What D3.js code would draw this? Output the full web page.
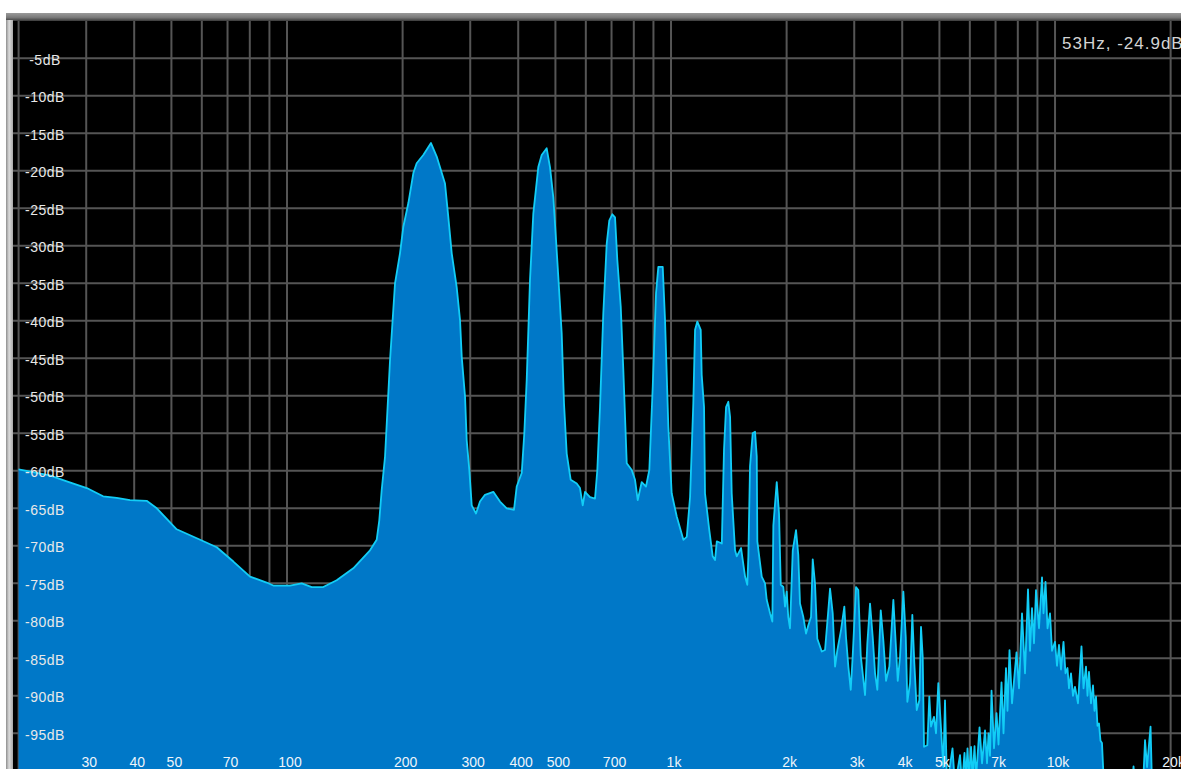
<!DOCTYPE html>
<html>
<head>
<meta charset="utf-8">
<script src="https://cdn.jsdelivr.net/npm/d3@7"></script>
<style>
  html, body { margin: 0; padding: 0; background: #ffffff; overflow: hidden; }
  svg { display: block; }
  text { font-family: "Liberation Sans", Arial, sans-serif; }
</style>
</head>
<body>
<svg id="chart" width="1181" height="769"></svg>
<script>
// Spectrum analyser trace: frequency (Hz) and level (dB)
const freqHz = [
  20, 24.1, 26.7, 30.1, 33.2, 36.0, 39.0, 43.1, 45.8, 51.6, 59.4, 65.6, 72.5, 80.1, 88.5, 92.1, 101.8, 109.2, 116.0, 124.3, 134.7, 148.8, 164.5, 171.2,
  173.9, 176.4, 180.0, 185.5, 191.1, 196.9, 200.8, 207.0, 213.3, 217.6, 226.4, 237.1, 245.4, 257.9, 263.0, 268.5, 276.6, 282.2, 285.1, 290.8, 293.7, 298.4, 302.7, 310.6, 318.1, 327.8, 344.5, 358.6, 373.3, 390.0,
  396.4, 408.5, 414.9, 420.9, 429.3, 437.9, 451.2, 460.5, 474.5, 484.0, 493.7, 501.8, 508.7, 519.2, 526.4, 535.0, 548.0, 568.1, 579.4, 588.9, 597.1, 615.2, 634.0,
  642.8, 653.3, 666.3, 680.1, 690.7, 703.3, 714.8, 724.7, 739.7, 751.3, 766.8, 790.1, 805.9, 819.1, 838.9, 860.8,
  878.0, 896.1, 914.0, 926.7, 951.5, 964.7, 984.0, 1004, 1035, 1077, 1099,
  1121, 1143, 1155, 1171, 1195, 1202, 1219, 1226, 1258, 1284, 1302, 1316, 1356, 1374, 1391, 1410, 1425, 1439, 1468, 1483, 1522, 1559, 1580, 1590, 1606, 1632, 1655, 1672, 1678, 1723, 1757, 1775, 1811, 1836,
  1847, 1885, 1911, 1931, 1961, 1981, 2001, 2020, 2041, 2075, 2116, 2145, 2167, 2211, 2247, 2278, 2315, 2339, 2371, 2404, 2469, 2518, 2568, 2595, 2637, 2674, 2711, 2772, 2827, 2856, 2896, 2938, 2973, 3032, 3074, 3119, 3201, 3245, 3298, 3352, 3399, 3446, 3517, 3572, 3630, 3703, 3793, 3848, 3894, 3948,
  4027, 4086, 4125, 4192, 4250, 4302, 4364, 4433, 4477, 4523, 4559, 4650, 4706, 4754, 4840, 4899, 4967, 5039, 5118, 5170,
  5233, 5408, 5490, 5657, 5725, 5811, 5864, 5917, 5971, 6043, 6097, 6171, 6227, 6359, 6455, 6572, 6651, 6711, 6772, 6833, 6936, 7041, 7126, 7255, 7342, 7453, 7520, 7611, 7726, 7938, 8058, 8204, 8353, 8504, 8607, 8711, 8816, 8922, 9084, 9249, 9332, 9445, 9559, 9703, 9820, 9998, 10119, 10241, 10364, 10521, 10648, 10776, 10873, 11005, 11137, 11272, 11476, 11719, 11861, 12040, 12149, 12258, 12406, 12556, 12669, 12784, 12899, 13016, 13134, 13252, 13412, 15868, 16012, 16156, 16950, 17154, 17362, 17731, 17891, 22050
];
const levelDb = [
  -59.8, -60.6, -61.4, -62.3, -63.4, -63.6, -63.9, -64.0, -65.0, -67.8, -69.2, -70.2, -72.1, -74.1, -74.9, -75.3, -75.3, -75.0, -75.5, -75.5, -74.6, -73.0, -70.6, -69.2,
  -66.6, -62.6, -58.1, -45.2, -35.0, -31.0, -27.5, -24.3, -20.3, -19.0, -17.9, -16.3, -18.1, -21.7, -26.1, -31.0, -35.5, -39.9, -44.8, -50.1, -55.9, -59.9, -64.6, -65.7, -64.1, -63.2, -62.8, -64.1, -65.0, -65.2,
  -62.1, -60.3, -55.0, -47.9, -34.6, -25.7, -19.5, -17.9, -17.0, -19.5, -23.5, -29.2, -34.1, -41.7, -51.0, -57.7, -61.2, -61.7, -62.3, -64.6, -62.8, -63.5, -63.7,
  -59.9, -51.5, -39.0, -29.7, -26.6, -25.8, -26.2, -31.9, -38.1, -46.6, -59.0, -59.9, -61.2, -63.9, -61.5, -62.1,
  -59.9, -48.8, -36.3, -32.8, -32.8, -39.9, -54.1, -63.0, -66.1, -69.2, -68.8,
  -63.5, -51.0, -41.2, -40.1, -41.2, -47.2, -51.5, -63.0, -67.9, -71.4, -71.9, -69.4, -69.7, -57.2, -51.5, -50.8, -52.8, -63.0, -70.6, -71.4, -70.3, -74.1, -75.2, -71.4, -59.4, -55.0, -54.8, -58.1, -69.4, -74.1, -75.0, -77.2, -79.0, -80.1,
  -67.3, -61.5, -65.7, -75.2, -75.5, -78.1, -76.1, -79.5, -81.0, -70.6, -67.9, -71.2, -77.7, -79.5, -81.7, -80.6, -79.5, -71.8, -75.0, -82.4, -84.1, -83.9, -78.6, -75.7, -79.0, -86.1, -83.9, -81.2, -78.1, -82.2, -86.1, -89.2, -84.6, -75.5, -75.9, -84.6, -89.9, -83.0, -77.7, -82.2, -87.0, -89.2, -78.6, -82.6, -88.0, -86.1, -77.2, -83.0, -88.0, -84.8,
  -76.1, -82.2, -90.8, -88.3, -79.2, -85.7, -91.9, -90.6, -80.8, -84.8, -96.8, -96.6, -90.1, -94.1, -92.8, -95.0, -88.3, -93.7, -99.5, -90.6,
  -102, -97.0, -102, -97.9, -102, -97.6, -101, -97.0, -101, -96.8, -101, -96.7, -101, -94.2, -99, -94.6, -99, -95.0, -98, -89.3, -97, -92.3, -96.5, -88.2, -95, -86.3, -92, -83.9, -91, -84.2, -89, -79.0, -87, -75.8, -84, -78.3, -83, -75.9, -81, -74.2, -79, -74.8, -81, -79.0, -84, -82.8, -86, -83.2, -86.5, -82.8, -87, -86.3, -89, -87.0, -90, -88.8, -91, -83.4, -89, -86.1, -90, -86.8, -91, -88.6, -92, -90.1, -94, -93.7, -96, -96.3, -102, -102, -99.4, -102, -102, -95.9, -99.5, -94.1, -102, -102
];

// Axis ticks and grid
const dbTicks = [-5, -10, -15, -20, -25, -30, -35, -40, -45, -50, -55, -60, -65, -70, -75, -80, -85, -90, -95];
const gridFreqs = [20, 30, 40, 50, 60, 70, 80, 90, 100, 200, 300, 400, 500, 600, 700, 800, 900,
                   1000, 2000, 3000, 4000, 5000, 6000, 7000, 8000, 9000, 10000, 20000];
const freqLabels = [30, 40, 50, 70, 100, 200, 300, 400, 500, 700, 1000, 2000, 3000, 4000, 5000, 7000, 10000, 20000];
const cursorReadout = "53Hz, -24.9dB";

const W = 1181, H = 769;
const plotLeft = 13, plotTop = 21;

const x = d3.scaleLog().domain([20, 22050]).range([18.6, 1186.9]);
const y = d3.scaleLinear().domain([0, -100]).range([20.8, 770.8]);

const svg = d3.select("#chart");
const defs = svg.append("defs");

const sideGrad = defs.append("linearGradient").attr("id", "sideBar")
  .attr("x1", "0").attr("x2", "1").attr("y1", "0").attr("y2", "0");
sideGrad.append("stop").attr("offset", "0%").attr("stop-color", "#8e8e8e");
sideGrad.append("stop").attr("offset", "45%").attr("stop-color", "#dcdcdc");
sideGrad.append("stop").attr("offset", "100%").attr("stop-color", "#a8a8a8");

const topGrad = defs.append("linearGradient").attr("id", "topBar")
  .attr("x1", "0").attr("x2", "0").attr("y1", "0").attr("y2", "1");
topGrad.append("stop").attr("offset", "0%").attr("stop-color", "#9a9a9a");
topGrad.append("stop").attr("offset", "55%").attr("stop-color", "#7a7a7a");
topGrad.append("stop").attr("offset", "100%").attr("stop-color", "#3a3a3a");

defs.append("clipPath").attr("id", "plotClip")
  .append("rect").attr("x", plotLeft).attr("y", plotTop)
  .attr("width", W - plotLeft).attr("height", H - plotTop);

// Window frame
svg.append("rect").attr("x", 6).attr("y", 13).attr("width", W - 6).attr("height", 8)
  .attr("fill", "url(#topBar)");
svg.append("rect").attr("x", 6).attr("y", 20).attr("width", 7).attr("height", H - 20)
  .attr("fill", "url(#sideBar)");
svg.append("rect").attr("x", plotLeft).attr("y", plotTop)
  .attr("width", W - plotLeft).attr("height", H - plotTop).attr("fill", "#000");

const plot = svg.append("g").attr("clip-path", "url(#plotClip)");

// Grid
plot.append("g").selectAll("line").data(gridFreqs).join("line")
  .attr("x1", d => x(d)).attr("x2", d => x(d))
  .attr("y1", plotTop).attr("y2", H)
  .attr("stroke", "#555555").attr("stroke-width", 2);
plot.append("g").selectAll("line").data(dbTicks).join("line")
  .attr("x1", plotLeft).attr("x2", W)
  .attr("y1", d => y(d)).attr("y2", d => y(d))
  .attr("stroke", "#555555").attr("stroke-width", 2);

// Spectrum
const n = Math.min(freqHz.length, levelDb.length);
const spectrum = d3.range(n).map(i => ({ f: freqHz[i], db: levelDb[i] }));

const area = d3.area()
  .x(d => x(d.f))
  .y0(H + 20)
  .y1(d => y(d.db))
  .curve(d3.curveLinear);
const line = d3.line()
  .x(d => x(d.f))
  .y(d => y(d.db))
  .curve(d3.curveLinear);

plot.append("path").datum(spectrum).attr("d", area).attr("fill", "#0078c8");
plot.append("path").datum(spectrum).attr("d", line)
  .attr("fill", "none").attr("stroke", "#12cdf6").attr("stroke-width", 1.8)
  .attr("stroke-linejoin", "round");

// Level labels
svg.append("g").selectAll("text").data(dbTicks).join("text")
  .attr("x", 45).attr("y", d => y(d) + 6.5)
  .attr("text-anchor", "middle")
  .attr("font-size", 14).attr("letter-spacing", 0.5)
  .attr("fill", "#e8e8e8")
  .text(d => d + "dB");

// Frequency labels
const fmtFreq = f => f >= 1000 ? (f / 1000) + "k" : String(f);
svg.append("g").selectAll("text").data(freqLabels).join("text")
  .attr("x", d => x(d) + 3).attr("y", 767)
  .attr("text-anchor", "middle")
  .attr("font-size", 14)
  .attr("fill", "#eef4fa")
  .text(fmtFreq);

// Cursor readout
svg.append("text")
  .attr("x", 1062).attr("y", 49)
  .attr("font-size", 17).attr("letter-spacing", 1)
  .attr("fill", "#d4d4d4")
  .text(cursorReadout);
</script>
</body>
</html>
